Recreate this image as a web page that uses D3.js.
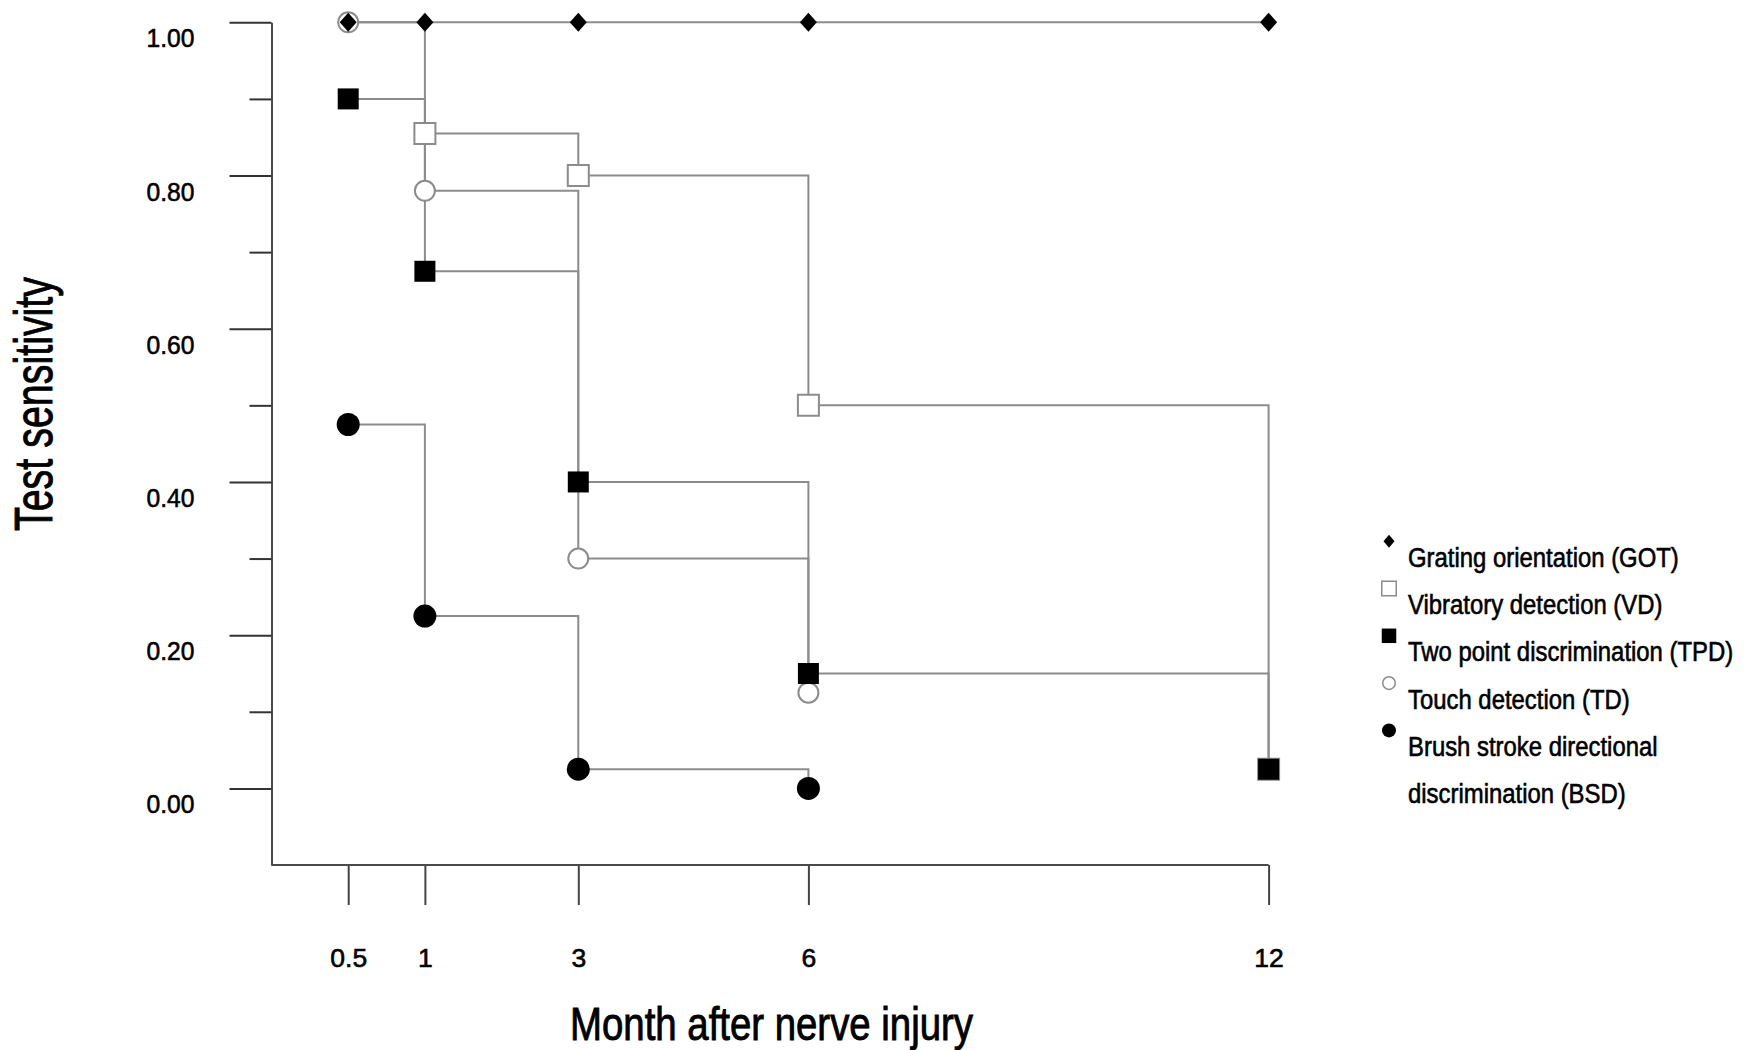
<!DOCTYPE html>
<html>
<head>
<meta charset="utf-8">
<script src="https://cdn.jsdelivr.net/npm/d3@7"></script>
<style>
  body { margin: 0; background: #fff; }
  svg { display: block; }
  text { font-family: "Liberation Sans", Arial, "DejaVu Sans", sans-serif; fill: #000; stroke: #000; stroke-width: 0.6px; }
</style>
</head>
<body>
<svg id="chart" width="1764" height="1050"></svg>
<script>
// ---------------- data ----------------
const months = [0.5, 1, 3, 6, 12];
const monthLabels = ["0.5", "1", "3", "6", "12"];
const yMajorTicks = [0.0, 0.2, 0.4, 0.6, 0.8, 1.0];
const yMinorTicks = [0.1, 0.3, 0.5, 0.7, 0.9];
const seriesNames = [
  "Grating orientation (GOT)",
  "Vibratory detection (VD)",
  "Two point discrimination (TPD)",
  "Touch detection (TD)",
  "Brush stroke directional discrimination (BSD)"
];
const legendLines = [
  ["Grating orientation (GOT)"],
  ["Vibratory detection (VD)"],
  ["Two point discrimination (TPD)"],
  ["Touch detection (TD)"],
  ["Brush stroke directional", "discrimination (BSD)"]
];
const gotValues = [1.00, 1.00, 1.00, 1.00, 1.00];
const vdValues  = [null, 0.855, 0.80, 0.50, 0.025];
const tpdValues = [0.90, 0.675, 0.40, 0.15, 0.025];
const tdValues  = [1.00, 0.78, 0.30, 0.125, null];
const bsdValues = [0.475, 0.225, 0.025, 0.00, null];
const xTitle = "Month after nerve injury";
const yTitle = "Test sensitivity";

// ---------------- layout ----------------
const svg = d3.select("#chart");
const plotLeft = 271.5;
const unit = 76.7;           // px per month (0.5 sits one unit left of 1)
const plotBottom = 865;
const plotTop = 22.3;
const lineColor = "#8c8c8c";
const axisColor = "#4a4a4a";

const x = d3.scaleLinear()
  .domain([0.5, 1, 12])
  .range([plotLeft + unit, plotLeft + 2 * unit, plotLeft + 13 * unit]);
const y = d3.scaleLinear().domain([-0.1, 1.0]).range([plotBottom, plotTop]);

// ---------------- axes ----------------
const yAxisG = svg.append("g").attr("transform", `translate(${plotLeft},0)`)
  .call(d3.axisLeft(y).tickValues(yMajorTicks).tickSize(42).tickSizeOuter(0)
        .tickFormat(d3.format(".2f")));
yAxisG.select(".domain").attr("stroke", axisColor).attr("stroke-width", 2);
yAxisG.selectAll(".tick line").attr("stroke", "#333").attr("stroke-width", 2);
yAxisG.selectAll(".tick text")
  .attr("x", 0).attr("dy", null)
  .attr("transform", "translate(-77,24.5) scale(0.93,1)")
  .attr("text-anchor", "end")
  .style("font-size", "26.5px");
const yMinorG = svg.append("g").attr("transform", `translate(${plotLeft},0)`)
  .call(d3.axisLeft(y).tickValues(yMinorTicks).tickSize(22).tickSizeOuter(0).tickFormat(""));
yMinorG.select(".domain").remove();
yMinorG.selectAll(".tick line").attr("stroke", "#333").attr("stroke-width", 2);

const xAxisG = svg.append("g").attr("transform", `translate(0,${plotBottom})`)
  .call(d3.axisBottom(x).tickValues(months).tickSize(40).tickSizeOuter(0)
        .tickFormat((d, i) => monthLabels[i]));
xAxisG.select(".domain").remove();
xAxisG.selectAll(".tick line").attr("stroke", "#444").attr("stroke-width", 2);
xAxisG.selectAll(".tick text")
  .attr("y", 0).attr("dy", null)
  .attr("transform", "translate(0,102)")
  .attr("text-anchor", "middle")
  .style("font-size", "26.5px");
svg.append("line")
  .attr("x1", plotLeft).attr("x2", x(12))
  .attr("y1", plotBottom).attr("y2", plotBottom)
  .attr("stroke", axisColor).attr("stroke-width", 2);

// titles
svg.append("text")
  .attr("transform", `translate(771.5,1040) scale(0.834,1)`)
  .attr("text-anchor", "middle")
  .style("font-size", "46px")
  .style("stroke-width", "0.9px")
  .text(xTitle);
svg.append("text")
  .attr("transform", `translate(52,404) rotate(-90) scale(0.73,1)`)
  .attr("text-anchor", "middle")
  .style("font-size", "54px")
  .style("stroke-width", "0.9px")
  .text(yTitle);

// ---------------- series ----------------
function diamondPath(w, h) {
  return `M0,${-h / 2}L${w / 2},0L0,${h / 2}L${-w / 2},0Z`;
}
function squarePath(s) {
  return `M${-s / 2},${-s / 2}h${s}v${s}h${-s}Z`;
}
function circlePath(r) {
  const p = d3.path(); p.arc(0, 0, r, 0, 2 * Math.PI); p.closePath(); return p.toString();
}
const shapes = {
  diamond: (big) => big ? diamondPath(17, 19) : diamondPath(11, 13),
  square: (big) => big ? squarePath(21) : squarePath(14.5),
  circleOpen: (big) => big ? circlePath(10) : circlePath(6.3),
  circleFilled: (big) => big ? circlePath(11.5) : circlePath(7)
};

const series = [
  { key: "GOT", values: gotValues, shape: "diamond", filled: true },
  { key: "VD",  values: vdValues,  shape: "square", filled: false },
  { key: "TPD", values: tpdValues, shape: "square", filled: true },
  { key: "TD",  values: tdValues,  shape: "circleOpen", filled: false },
  { key: "BSD", values: bsdValues, shape: "circleFilled", filled: true }
].map((s, i) => ({
  ...s,
  name: seriesNames[i],
  points: months.map((m, j) => ({ m, v: s.values[j] })).filter(d => d.v != null)
}));

const stepLine = d3.line()
  .x(d => x(d.m)).y(d => y(d.v))
  .curve(d3.curveStepAfter);

const linesG = svg.append("g");
series.slice().reverse().forEach(s => {
  linesG.append("path")
    .attr("d", stepLine(s.points))
    .attr("fill", "none")
    .attr("stroke", lineColor)
    .attr("stroke-width", 2);
});

const drawOrder = ["VD", "TD", "BSD", "TPD", "GOT"];
const markersG = svg.append("g");
drawOrder.forEach(k => {
  const s = series.find(d => d.key === k);
  markersG.selectAll(null).data(s.points).enter().append("path")
    .attr("transform", d => `translate(${x(d.m)},${y(d.v)})`)
    .attr("d", shapes[s.shape](true))
    .attr("fill", s.filled ? "#000" : "#fff")
    .attr("stroke", s.filled ? "none" : lineColor)
    .attr("stroke-width", 2);
});

// ---------------- legend ----------------
const legendX = 1389;
const legendTextX = 1408;
const legendBase = 566.7;
const legendStep = 47.3;
const legendG = svg.append("g");
let lineIdx = 0;
series.forEach((s, i) => {
  const base = legendBase + lineIdx * legendStep;
  legendG.append("path")
    .attr("transform", `translate(${legendX},${base - 25.5})`)
    .attr("d", shapes[s.shape](false))
    .attr("fill", s.filled ? "#000" : "#fff")
    .attr("stroke", s.filled ? "none" : lineColor)
    .attr("stroke-width", 1.5);
  legendLines[i].forEach((txt, k) => {
    legendG.append("text")
      .attr("transform", `translate(${legendTextX},${base + k * legendStep}) scale(0.885,1)`)
      .style("font-size", "27px")
      .text(txt);
  });
  lineIdx += legendLines[i].length;
});
</script>
</body>
</html>
